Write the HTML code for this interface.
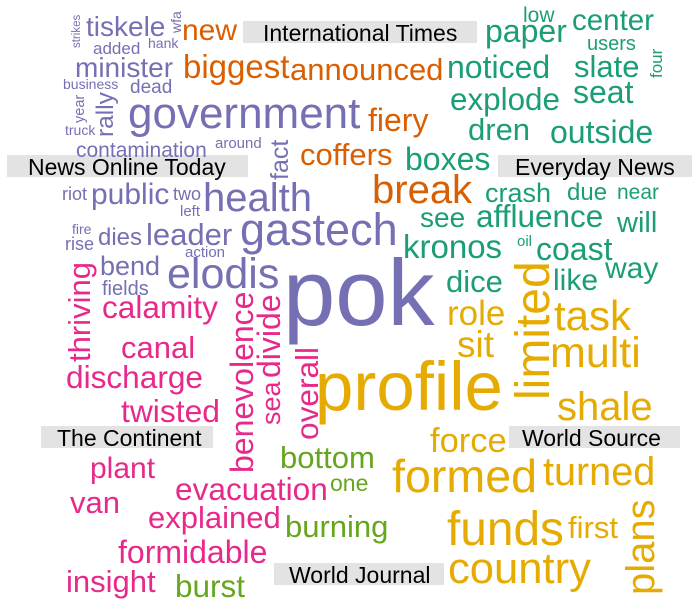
<!DOCTYPE html>
<html><head><meta charset="utf-8">
<style>
html,body{margin:0;padding:0;background:#fff;}
svg{display:block;}
text{font-family:"Liberation Sans",Arial,sans-serif;}
.pu{fill:#7570b3}.or{fill:#d95f02}.te{fill:#1b9e77}.pi{fill:#e7298a}.gr{fill:#66a61e}.go{fill:#e6ab02}
.lb{fill:#000;font-size:23px}
</style></head>
<body>
<svg width="696" height="607" viewBox="0 0 696 607">
<g><rect x="243" y="21" width="234" height="22" fill="#e3e3e3"/><text class="lb" x="263" y="41">International Times</text></g>
<g><rect x="7" y="155" width="241" height="22" fill="#e3e3e3"/><text class="lb" x="28" y="175">News Online Today</text></g>
<g><rect x="498" y="155" width="194" height="22" fill="#e3e3e3"/><text class="lb" x="515" y="175">Everyday News</text></g>
<g><rect x="41" y="426" width="172" height="22" fill="#e3e3e3"/><text class="lb" x="57" y="446">The Continent</text></g>
<g><rect x="509" y="426" width="171" height="22" fill="#e3e3e3"/><text class="lb" x="522" y="446">World Source</text></g>
<g><rect x="274" y="563" width="170" height="22" fill="#e3e3e3"/><text class="lb" x="289" y="583">World Journal</text></g>

<text class="pu" x="283" y="325" font-size="94">pok</text>
<text class="pu" x="128" y="128" font-size="44">government</text>
<text class="pu" x="240" y="245" font-size="45">gastech</text>
<text class="pu" x="203" y="211" font-size="40">health</text>
<text class="pu" x="167" y="288" font-size="43">elodis</text>
<text class="pu" x="86" y="36" font-size="28">tiskele</text>
<text class="pu" x="93" y="54" font-size="17">added</text>
<text class="pu" x="148" y="48" font-size="14">hank</text>
<text class="pu" x="75" y="77" font-size="28">minister</text>
<text class="pu" x="63" y="89" font-size="14">business</text>
<text class="pu" x="130" y="93" font-size="19">dead</text>
<text class="pu" x="65" y="135" font-size="14">truck</text>
<text class="pu" x="76" y="157" font-size="21">contamination</text>
<text class="pu" x="215" y="148" font-size="15">around</text>
<text class="pu" x="62" y="200" font-size="18">riot</text>
<text class="pu" x="91" y="204" font-size="30">public</text>
<text class="pu" x="173" y="200" font-size="18">two</text>
<text class="pu" x="180" y="216" font-size="15">left</text>
<text class="pu" x="72" y="234" font-size="14">fire</text>
<text class="pu" x="65" y="250" font-size="18">rise</text>
<text class="pu" x="98" y="245" font-size="24">dies</text>
<text class="pu" x="146" y="245" font-size="31">leader</text>
<text class="pu" x="185" y="257" font-size="15">action</text>
<text class="pu" x="100" y="275" font-size="27">bend</text>
<text class="pu" x="102" y="295" font-size="20">fields</text>
<text class="pu" font-size="11.5" transform="translate(80,48) rotate(-90)">strikes</text>
<text class="pu" font-size="14" transform="translate(181,33) rotate(-90)">wfa</text>
<text class="pu" font-size="14.5" transform="translate(84,123) rotate(-90)">year</text>
<text class="pu" font-size="24.5" transform="translate(113,137) rotate(-90)">rally</text>
<text class="pu" font-size="25" transform="translate(288,180) rotate(-90)">fact</text>

<text class="or" x="182" y="40" font-size="30">new</text>
<text class="or" x="183" y="78" font-size="33">biggest</text>
<text class="or" x="290" y="80" font-size="31">announced</text>
<text class="or" x="368" y="131" font-size="32">fiery</text>
<text class="or" x="300" y="165" font-size="31">coffers</text>
<text class="or" x="372" y="203" font-size="40">break</text>

<text class="te" x="523" y="22" font-size="21">low</text>
<text class="te" x="485" y="42" font-size="32">paper</text>
<text class="te" x="572" y="30" font-size="29.5">center</text>
<text class="te" x="587" y="50" font-size="20">users</text>
<text class="te" x="447" y="78" font-size="32">noticed</text>
<text class="te" x="574" y="77" font-size="31">slate</text>
<text class="te" x="450" y="110" font-size="31.4">explode</text>
<text class="te" x="573" y="103" font-size="32">seat</text>
<text class="te" x="468" y="140" font-size="31">dren</text>
<text class="te" x="550" y="143" font-size="32">outside</text>
<text class="te" x="405" y="170" font-size="32">boxes</text>
<text class="te" x="485" y="202" font-size="27">crash</text>
<text class="te" x="567" y="200" font-size="24">due</text>
<text class="te" x="617" y="199" font-size="21">near</text>
<text class="te" x="420" y="227" font-size="28">see</text>
<text class="te" x="476" y="227" font-size="31.5">affluence</text>
<text class="te" x="617" y="232" font-size="29">will</text>
<text class="te" x="403" y="258" font-size="33">kronos</text>
<text class="te" x="517" y="246" font-size="15">oil</text>
<text class="te" x="536" y="260" font-size="32">coast</text>
<text class="te" x="446" y="292" font-size="31">dice</text>
<text class="te" x="553" y="290" font-size="30">like</text>
<text class="te" x="605" y="278" font-size="30">way</text>
<text class="te" font-size="17" transform="translate(662,78) rotate(-90)">four</text>

<text class="go" x="315" y="410" font-size="69">profile</text>
<text class="go" x="447" y="325" font-size="35">role</text>
<text class="go" x="457" y="357" font-size="37">sit</text>
<text class="go" x="554" y="330" font-size="42">task</text>
<text class="go" x="550" y="367" font-size="43">multi</text>
<text class="go" x="557" y="420" font-size="40">shale</text>
<text class="go" x="430" y="452" font-size="34.5">force</text>
<text class="go" x="392" y="492" font-size="46.6">formed</text>
<text class="go" x="543" y="485" font-size="39.6">turned</text>
<text class="go" x="447" y="545" font-size="47.8">funds</text>
<text class="go" x="568" y="538" font-size="31">first</text>
<text class="go" x="448" y="583" font-size="43.6">country</text>
<text class="go" font-size="48" transform="translate(549,400) rotate(-90)">limited</text>
<text class="go" font-size="40" transform="translate(654,595) rotate(-90)">plans</text>

<text class="pi" x="102" y="318" font-size="31.6">calamity</text>
<text class="pi" x="121" y="358" font-size="31">canal</text>
<text class="pi" x="66" y="388" font-size="31.6">discharge</text>
<text class="pi" x="121" y="422" font-size="31.8">twisted</text>
<text class="pi" x="90" y="478" font-size="30">plant</text>
<text class="pi" x="70" y="513" font-size="31">van</text>
<text class="pi" x="175" y="500" font-size="31.6">evacuation</text>
<text class="pi" x="148" y="528" font-size="31">explained</text>
<text class="pi" x="118" y="563" font-size="32">formidable</text>
<text class="pi" x="66" y="592" font-size="31">insight</text>
<text class="pi" font-size="31" transform="translate(90,362) rotate(-90)">thriving</text>
<text class="pi" font-size="32" transform="translate(253,473) rotate(-90)">benevolence</text>
<text class="pi" font-size="32" transform="translate(280,378) rotate(-90)">divide</text>
<text class="pi" font-size="27" transform="translate(280,425) rotate(-90)">sea</text>
<text class="pi" font-size="31.6" transform="translate(318,440) rotate(-90)">overall</text>

<text class="gr" x="280" y="468" font-size="31">bottom</text>
<text class="gr" x="330" y="491" font-size="23">one</text>
<text class="gr" x="285" y="537" font-size="31">burning</text>
<text class="gr" x="175" y="597" font-size="31.5">burst</text>
</svg>
</body></html>
